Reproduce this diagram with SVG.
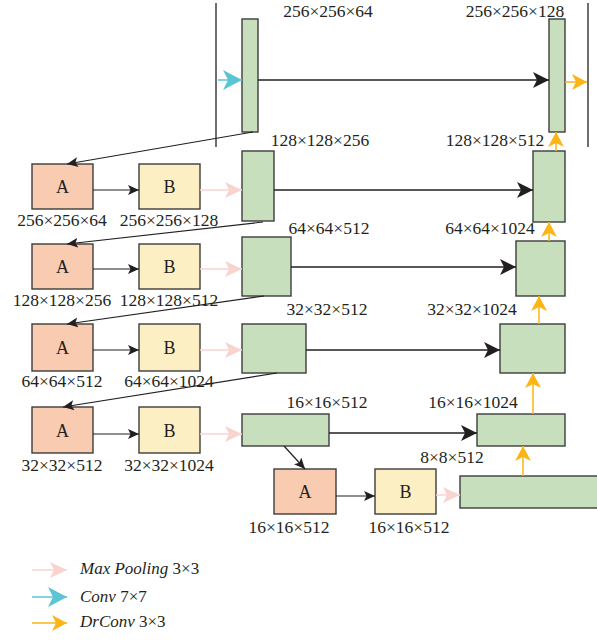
<svg xmlns="http://www.w3.org/2000/svg" width="597" height="640" viewBox="0 0 597 640">
<style>
.g{fill:#c8dfbd;stroke:#3c3c3c;stroke-width:1.4}
.a{fill:#f9cbb0;stroke:#3c3c3c;stroke-width:1.4}
.b{fill:#fdefc4;stroke:#3c3c3c;stroke-width:1.4}
.t{font-family:"Liberation Serif",serif;font-size:17.5px;fill:#231f20;text-anchor:middle}
.n{font-family:"Liberation Serif",serif;font-size:18px;fill:#231f20;text-anchor:middle}
.lg{font-family:"Liberation Serif",serif;font-size:17px;fill:#231f20}
.k{stroke:#231f20;stroke-width:1.3;fill:none}
.kb{stroke:#231f20;stroke-width:1.3;fill:none;marker-end:url(#mk)}
.ks{stroke:#231f20;stroke-width:1.2;fill:none;marker-end:url(#ms)}
.o{stroke:#fdb515;stroke-width:1.5;fill:none;marker-end:url(#mo)}
.p{stroke:#f8d3cf;stroke-width:1.5;fill:none;marker-end:url(#mp)}
.c{stroke:#5bc5d3;stroke-width:1.5;fill:none;marker-end:url(#mc)}
</style>
<defs>
<marker id="mk" markerUnits="userSpaceOnUse" viewBox="0 -8 16 16" refX="16" refY="0" markerWidth="16" markerHeight="16" orient="auto"><path d="M0,-8 L16,0 L0,8 L4,0 Z" fill="#231f20"/></marker>
<marker id="ms" markerUnits="userSpaceOnUse" viewBox="0 -5 11 10" refX="11" refY="0" markerWidth="11" markerHeight="10" orient="auto"><path d="M0,-5 L11,0 L0,5 L2.5,0 Z" fill="#231f20"/></marker>
<marker id="mo" markerUnits="userSpaceOnUse" viewBox="0 -8 15 16" refX="15" refY="0" markerWidth="15" markerHeight="16" orient="auto"><path d="M0,-8 L15,0 L0,8 L4,0 Z" fill="#fdb515"/></marker>
<marker id="mp" markerUnits="userSpaceOnUse" viewBox="0 -8 17 16" refX="17" refY="0" markerWidth="17" markerHeight="16" orient="auto"><path d="M0,-8 L17,0 L0,8 L4,0 Z" fill="#f8d3cf"/></marker>
<marker id="mc" markerUnits="userSpaceOnUse" viewBox="0 -10 19 20" refX="19" refY="0" markerWidth="19" markerHeight="20" orient="auto"><path d="M0,-10 L19,0 L0,10 L5,0 Z" fill="#5bc5d3"/></marker>
</defs>

<g id="frame">
<line class="k" x1="216" y1="3" x2="216" y2="147"/>
<line class="k" x1="588" y1="3" x2="588" y2="147"/>
</g>

<g id="enc0"><rect class="g" x="242" y="19" width="16" height="113"/><text class="t" x="328" y="17">256×256×64</text></g>
<g id="dec0"><rect class="g" x="549" y="19" width="16" height="113"/><text class="t" x="515" y="17">256×256×128</text></g>

<g id="A1"><rect class="a" x="32" y="164" width="61" height="45"/><text class="n" x="62.5" y="193">A</text><text class="t" x="62" y="226">256×256×64</text></g>
<g id="B1"><rect class="b" x="139" y="164" width="61" height="45"/><text class="n" x="169.5" y="193">B</text><text class="t" x="169" y="226">256×256×128</text></g>
<g id="enc1"><rect class="g" x="242" y="151" width="32" height="70"/><text class="t" x="320" y="146">128×128×256</text></g>
<g id="dec1"><rect class="g" x="533" y="151" width="32" height="71"/><text class="t" x="495" y="146">128×128×512</text></g>

<g id="A2"><rect class="a" x="32" y="244" width="61" height="45"/><text class="n" x="62.5" y="273">A</text><text class="t" x="62" y="306">128×128×256</text></g>
<g id="B2"><rect class="b" x="139" y="244" width="61" height="45"/><text class="n" x="169.5" y="273">B</text><text class="t" x="169" y="306">128×128×512</text></g>
<g id="enc2"><rect class="g" x="242" y="237" width="49" height="59"/><text class="t" x="329" y="234">64×64×512</text></g>
<g id="dec2"><rect class="g" x="516" y="241" width="49" height="55"/><text class="t" x="490" y="234">64×64×1024</text></g>

<g id="A3"><rect class="a" x="32" y="324" width="61" height="47"/><text class="n" x="62.5" y="354">A</text><text class="t" x="62" y="387">64×64×512</text></g>
<g id="B3"><rect class="b" x="139" y="324" width="61" height="47"/><text class="n" x="169.5" y="354">B</text><text class="t" x="169" y="387">64×64×1024</text></g>
<g id="enc3"><rect class="g" x="242" y="324" width="64" height="49"/><text class="t" x="327" y="315">32×32×512</text></g>
<g id="dec3"><rect class="g" x="500" y="324" width="65" height="49"/><text class="t" x="472" y="315">32×32×1024</text></g>

<g id="A4"><rect class="a" x="32" y="407" width="61" height="46"/><text class="n" x="62.5" y="437">A</text><text class="t" x="62" y="471">32×32×512</text></g>
<g id="B4"><rect class="b" x="139" y="407" width="61" height="46"/><text class="n" x="169.5" y="437">B</text><text class="t" x="169" y="471">32×32×1024</text></g>
<g id="enc4"><rect class="g" x="242" y="414" width="87" height="32"/><text class="t" x="327" y="408">16×16×512</text></g>
<g id="dec4"><rect class="g" x="477" y="414" width="88" height="32"/><text class="t" x="473" y="408">16×16×1024</text></g>

<g id="A5"><rect class="a" x="274" y="469" width="62" height="45"/><text class="n" x="305" y="498">A</text><text class="t" x="289" y="533">16×16×512</text></g>
<g id="B5"><rect class="b" x="375" y="469" width="61" height="45"/><text class="n" x="405.5" y="498">B</text><text class="t" x="409" y="533">16×16×512</text></g>
<g id="bottleneck"><rect class="g" x="460" y="476" width="140" height="32"/><text class="t" x="452" y="463">8×8×512</text></g>

<g id="connectors">
<line class="c" x1="218" y1="80" x2="242" y2="80"/>
<line class="kb" x1="258" y1="80" x2="549" y2="80"/>
<line class="o" x1="565" y1="82" x2="587" y2="82"/>

<line class="ks" x1="253" y1="132" x2="67" y2="164"/>
<line class="ks" x1="93" y1="190" x2="139" y2="190"/>
<line class="p" x1="200" y1="190" x2="242" y2="190"/>
<line class="kb" x1="274" y1="190" x2="533" y2="190"/>
<line class="o" x1="556" y1="151" x2="556" y2="132"/>

<line class="ks" x1="263" y1="222" x2="67" y2="244"/>
<line class="ks" x1="93" y1="269" x2="139" y2="269"/>
<line class="p" x1="200" y1="269" x2="242" y2="269"/>
<line class="kb" x1="291" y1="267" x2="516" y2="267"/>
<line class="o" x1="549" y1="241" x2="549" y2="222"/>

<line class="ks" x1="264" y1="296" x2="67" y2="324"/>
<line class="ks" x1="93" y1="350" x2="139" y2="350"/>
<line class="p" x1="200" y1="350" x2="242" y2="350"/>
<line class="kb" x1="306" y1="350" x2="500" y2="350"/>
<line class="o" x1="539" y1="324" x2="539" y2="296"/>

<line class="ks" x1="277" y1="373" x2="63" y2="407"/>
<line class="ks" x1="93" y1="434" x2="139" y2="434"/>
<line class="p" x1="200" y1="434" x2="242" y2="434"/>
<line class="kb" x1="329" y1="433" x2="477" y2="433"/>
<line class="o" x1="533" y1="414" x2="533" y2="373"/>

<line class="ks" x1="284" y1="446" x2="305" y2="469"/>
<line class="ks" x1="336" y1="496" x2="375" y2="496"/>
<line class="p" x1="436" y1="495" x2="460" y2="495"/>
<line class="o" x1="523" y1="476" x2="523" y2="446"/>
</g>

<g id="legend">
<line class="p" x1="32" y1="570" x2="67" y2="570"/>
<text class="lg" x="80" y="574"><tspan font-style="italic">Max Pooling</tspan> 3×3</text>
<line class="c" x1="32" y1="597" x2="67" y2="597"/>
<text class="lg" x="80" y="602"><tspan font-style="italic">Conv</tspan> 7×7</text>
<line class="o" x1="32" y1="623" x2="67" y2="623"/>
<text class="lg" x="80" y="627"><tspan font-style="italic">DrConv</tspan> 3×3</text>
</g>
</svg>
